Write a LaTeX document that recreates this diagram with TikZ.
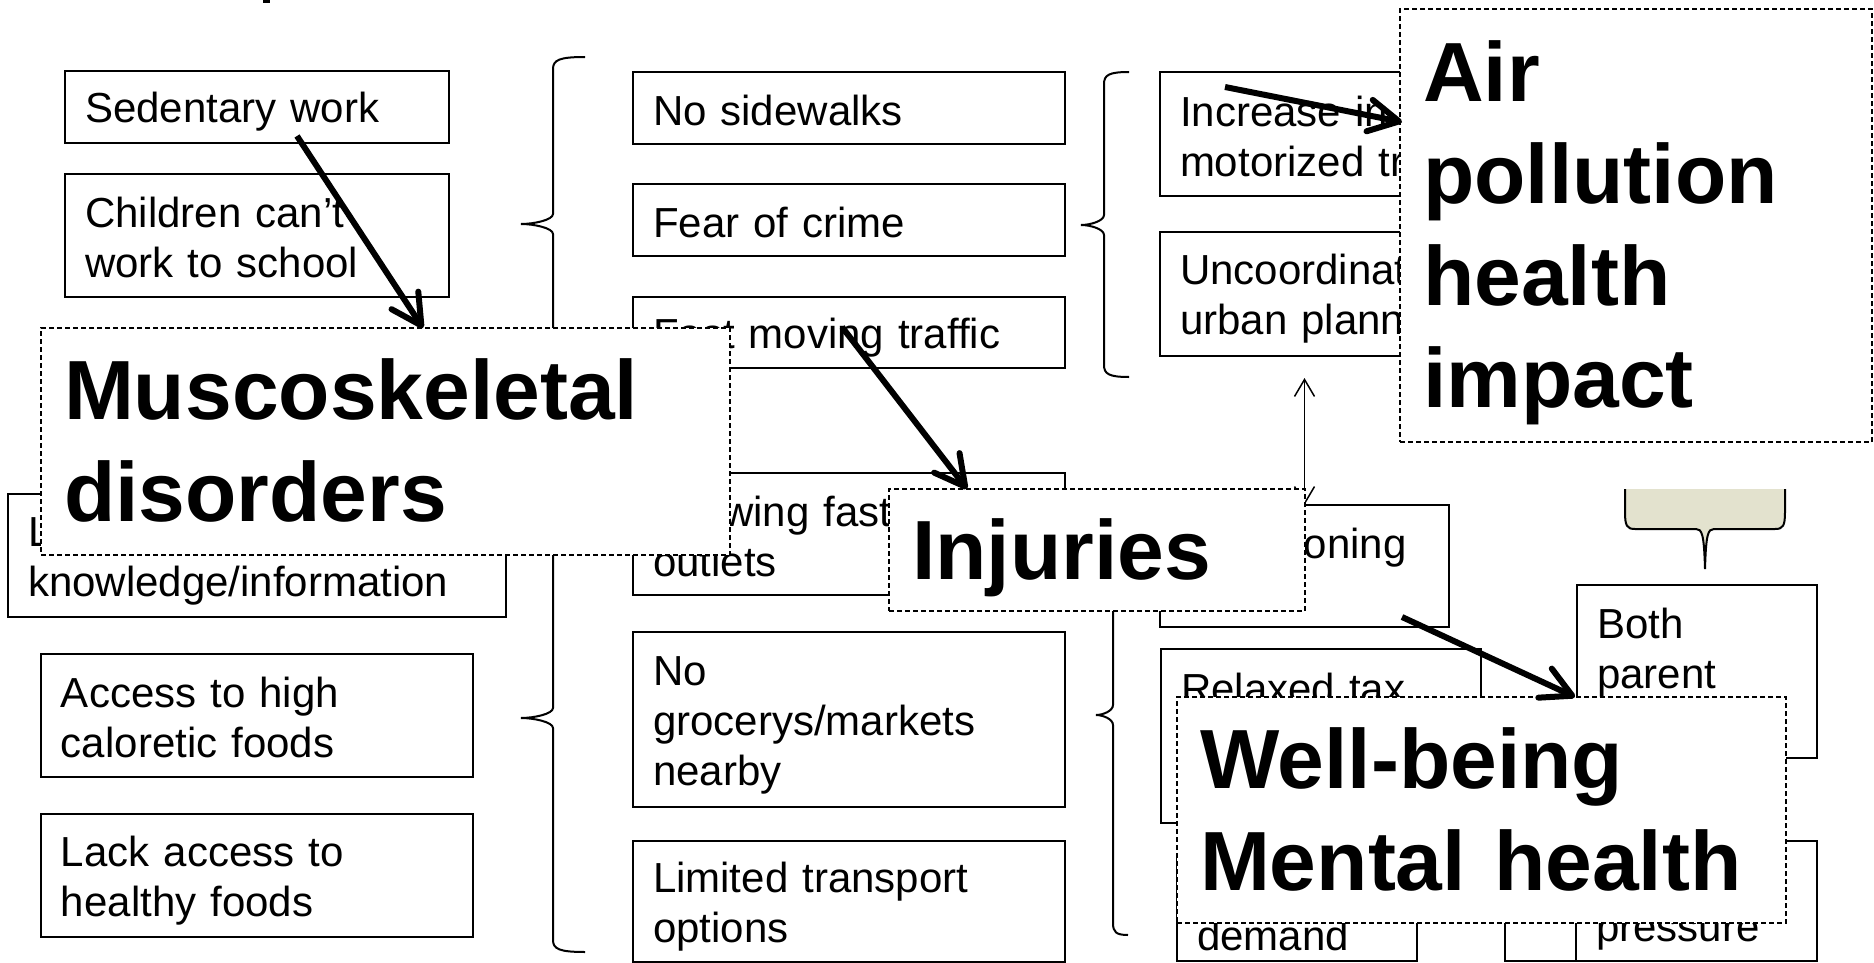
\documentclass[tikz,border=0pt]{standalone}
\usepackage{fontspec}
\setmainfont{Liberation Sans}
\usetikzlibrary{arrows.meta,calc}
\definecolor{calloutfill}{RGB}{227,226,206}
\newcommand\smstrut{\rule[-3.2pt]{0pt}{23.45pt}}
\newcommand\bgstrut{\rule[-8.9pt]{0pt}{46.9pt}}
\newcommand\mybrace[6]{\draw[bracestyle] (#1,#4) .. controls ({#2+(#1-#2)*0.2},#4) and (#2,{#4+3}) .. (#2,{#4+12}) -- (#2,{#5-10}) .. controls (#2,{#5-4}) and ({#3+(#2-#3)*0.4},#5) .. (#3,#5) .. controls ({#3+(#2-#3)*0.4},#5) and (#2,{#5+4}) .. (#2,{#5+10}) -- (#2,{#6-12}) .. controls (#2,{#6-3}) and ({#2+(#1-#2)*0.2},#6) .. (#1,#6);}
\tikzset{
 sbox/.style={draw, fill=white, line width=1pt, anchor=north west, outer sep=0pt, inner xsep=10pt, inner ysep=0pt, align=left, font=\fontsize{21}{25}\selectfont, execute at begin node=\smstrut, execute at end node=\smstrut},
 bigbox/.style={draw, fill=white, line width=0.75pt, dash pattern=on 2.5pt off 1.5pt, anchor=north west, outer sep=0pt, inner xsep=11.5pt, inner ysep=0pt, align=left, font=\fontsize{42}{51}\selectfont\bfseries, execute at begin node=\bgstrut, execute at end node=\bgstrut},
 bracestyle/.style={line width=1pt},
 thickarrow/.style={line width=3pt, -{Straight Barb[length=15pt,width=16pt,round]}},
 thinarrow/.style={line width=0.75pt, {Straight Barb[length=8.5pt,width=10pt]}-{Straight Barb[length=8.5pt,width=10pt]}},
}
\begin{document}
\begin{tikzpicture}[x=0.5pt,y=-0.5pt]
\path[use as bounding box] (0,0) rectangle (1874,963);
\clip (0,0) rectangle (1874,963);
\fill[white] (0,0) rectangle (1874,963);
% fragment of a cut-off glyph at the top edge
\fill (263,0) rectangle (270,3);

% column 1
\node[sbox, minimum width=192pt, minimum height=36pt, text width=172pt] (sw) at (65,71) {Sedentary work};
\node[sbox, minimum width=192pt, minimum height=61.5pt, text width=172pt] (ch) at (65,174) {Children can’t\\work to school};
\node[sbox, minimum width=249pt, minimum height=61.5pt, text width=229pt] (lk) at (8,494) {L\\knowledge/information};
\node[sbox, minimum width=216pt, minimum height=61.5pt, text width=196pt] (ac) at (41,654) {Access to high\\caloretic foods};
\node[sbox, minimum width=216pt, minimum height=61.5pt, text width=196pt] (la) at (41,814) {Lack access to\\healthy foods};

% column 2
\node[sbox, minimum width=216pt, minimum height=36pt, text width=196pt] (ns) at (633,72) {No sidewalks};
\node[sbox, minimum width=216pt, minimum height=36pt, text width=196pt] (fc) at (633,184) {Fear of crime};
\node[sbox, minimum width=216pt, minimum height=35.5pt, text width=196pt] (ft) at (633,297) {Fast moving traffic};
\node[sbox, minimum width=216pt, minimum height=61pt, text width=196pt] (gf) at (633,473) {Growing fast food\\outlets};
\node[sbox, minimum width=216pt, minimum height=87.5pt, text width=196pt] (ng) at (633,632) {No\\grocerys/markets\\nearby};
\node[sbox, minimum width=216pt, minimum height=60.5pt, text width=196pt] (lt) at (633,841) {Limited transport\\options};

% column 3
\node[sbox, minimum width=180pt, minimum height=62pt, text width=160pt] (im) at (1160,72) {Increase in\\motorized traffic};
\node[sbox, minimum width=180pt, minimum height=62pt, text width=160pt] (uc) at (1160,232) {Uncoordinated\\urban planning};
\node[sbox, minimum width=144.5pt, minimum height=61pt, text width=124.5pt] (zn) at (1160,505) {\hphantom{Poor z}oning\\~};
\node[sbox, minimum width=160pt, minimum height=87pt, text width=140pt] (rt) at (1161,649) {Relaxed tax\\~\\~};
\node[sbox, minimum width=120pt, minimum height=53pt, text width=100pt] (dm) at (1177,855) {~\\demand};
\node[sbox, minimum width=100pt, minimum height=50.5pt, text width=80pt] (ex) at (1505,860) {};
\node[sbox, minimum width=120.5pt, minimum height=60pt, text width=100.5pt] (pr) at (1576,841) {~\\pressure};
\node[sbox, minimum width=120pt, minimum height=86.5pt, text width=100pt] (bp) at (1577,585) {Both\\parent\\~};

% braces
\mybrace{585}{553}{521}{57}{224}{391}
\mybrace{585}{553}{521}{484}{718}{952}
\mybrace{1129}{1104}{1081}{72}{225}{377}
\mybrace{1128}{1113}{1096}{495}{715}{935}

% callout
\filldraw[fill=calloutfill, draw=black, line width=1pt] (1625,489) -- (1625,512) .. controls (1625,526) and (1627,529) .. (1635,529) -- (1696,529) .. controls (1702,529) and (1704,534) .. (1705,569) .. controls (1706,534) and (1708,529) .. (1714,529) -- (1775,529) .. controls (1783,529) and (1785,526) .. (1785,512) -- (1785,489);

% thin double arrow
\coordinate (ta) at (1304.5,378);
\draw[thinarrow] (ta) -- (zn.north);

% big dashed labels
\node[bigbox, minimum width=344.5pt, minimum height=113.5pt, text width=321.5pt] (mus) at (41,328) {Muscoskeletal\\disorders};
\node[bigbox, minimum width=208pt, minimum height=61pt, text width=185pt] (inj) at (889,489) {Injuries};
\node[bigbox, minimum width=236pt, minimum height=216.5pt, text width=213pt] (air) at (1400,9) {Air\\pollution\\health\\impact};
\node[bigbox, minimum width=304.5pt, minimum height=113pt, text width=281.5pt] (wb) at (1177,697) {Well-being\\Mental health};

% thick arrows
\coordinate (a1s) at (297,136);
\coordinate (a2s) at (842,327);
\coordinate (a3s) at (1225,87);
\coordinate (a4s) at (1402,617);
\draw[thickarrow] (a1s) -- ($(mus.north west)+(382,0)$);
\draw[thickarrow] (a2s) -- ($(inj.north west)+(78,0)$);
\draw[thickarrow] (a3s) -- ($(air.north west)+(2,113)$);
\draw[thickarrow] (a4s) -- ($(wb.north west)+(398,0)$);
\end{tikzpicture}
\end{document}
